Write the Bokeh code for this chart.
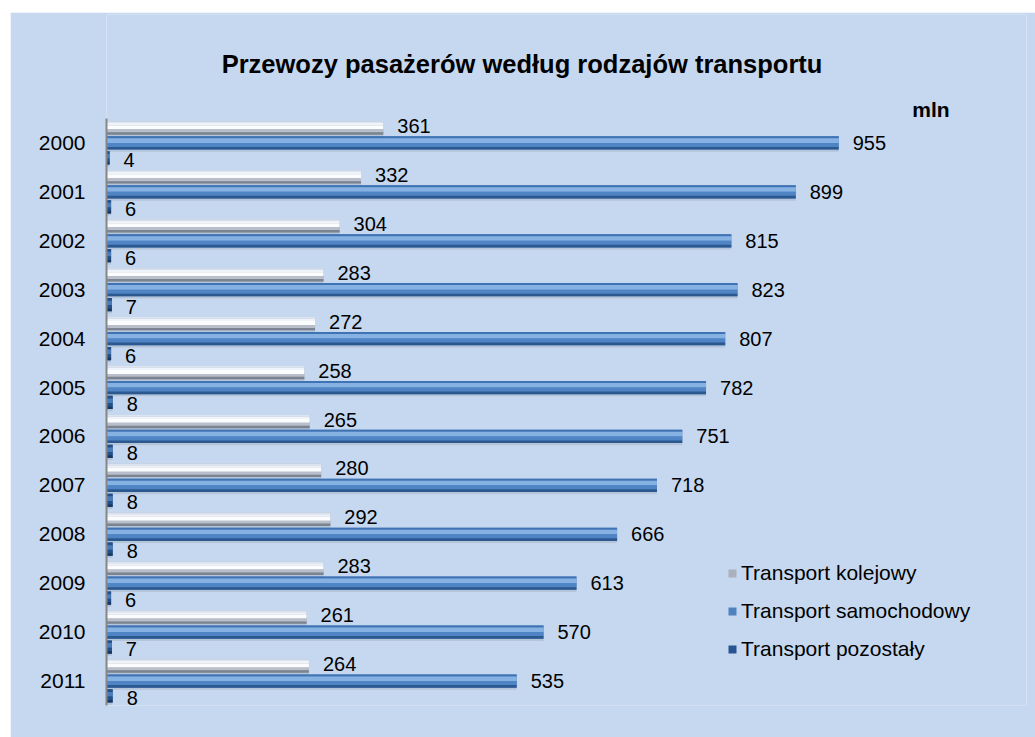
from bokeh.plotting import figure
from bokeh.models import (ColumnDataSource, Range1d, LabelSet, FixedTicker,
                          Legend, LegendItem, Spacer)
from bokeh.layouts import column, row
from bokeh.transform import dodge
from bokeh.core.properties import value
from bokeh.embed import file_html
from bokeh.resources import INLINE

# ---- data ----
years = ["2000", "2001", "2002", "2003", "2004", "2005",
         "2006", "2007", "2008", "2009", "2010", "2011"]
kolejowy = [361, 332, 304, 283, 272, 258, 265, 280, 292, 283, 261, 264]
samochodowy = [955, 899, 815, 823, 807, 782, 751, 718, 666, 613, 570, 535]
pozostaly = [4, 6, 6, 7, 6, 8, 8, 8, 8, 6, 7, 8]
series_names = ["Transport kolejowy", "Transport samochodowy", "Transport pozostały"]
title_text = "Przewozy pasażerów według rodzajów transportu"
unit_text = "mln"

FONT = "Liberation Sans"
BG = "#c6d8ef"
n = len(years)
idx = list(range(n))

p = figure(width=1025, height=725,
           x_range=Range1d(0, 1200),
           y_range=Range1d(n - 0.5, -2.626),
           x_axis_location=None,
           output_backend="svg", toolbar_location=None,
           min_border_left=96, min_border_right=9,
           min_border_top=2, min_border_bottom=32)
p.background_fill_color = BG
p.border_fill_color = BG
p.outline_line_color = None
p.xgrid.visible = False
p.ygrid.visible = False

ax = p.yaxis[0]
ax.ticker = FixedTicker(ticks=idx)
ax.major_label_overrides = {i: y for i, y in zip(idx, years)}
ax.bounds = (-0.5, n - 0.5)
ax.axis_line_color = "#868686"
ax.axis_line_width = 2
ax.major_tick_line_color = None
ax.minor_tick_line_color = None
ax.major_label_text_font = FONT
ax.major_label_text_font_size = "21px"
ax.major_label_text_color = "#000000"
ax.major_label_standoff = 15

H = 0.27
offsets = [-0.305, 0.0, 0.305]     # kolejowy on top, pozostały at bottom (y axis inverted)
values = [kolejowy, samochodowy, pozostaly]
base_colors = ["#aab0bc", "#4f81bd", "#28558f"]
stripes = [
    [(0.0, 0.12, "#dbe4f0"), (0.12, 0.3, "#eff4fa"), (0.3, 0.6, "#fbfcfe"),
     (0.6, 0.82, "#b9bfca"), (0.82, 1.0, "#7b8391")],
    [(0.0, 0.15, "#3f73b3"), (0.15, 0.5, "#86b1e3"), (0.5, 0.8, "#4f84c5"),
     (0.8, 1.0, "#2c5890")],
    [(0.0, 0.2, "#23508a"), (0.2, 0.55, "#4a7cba"), (0.55, 0.8, "#24508a"),
     (0.8, 1.0, "#163862")],
]
label_dy = [2, 0, -2]

legend_items = []
for i in range(3):
    src = ColumnDataSource(dict(pos=idx, v=values[i],
                                t=[str(x) for x in values[i]]))
    # soft shadow
    p.hbar(y=dodge("pos", offsets[i] + 0.045), right="v", left=0,
           height=H, source=src, fill_color="#8a97aa", fill_alpha=0.3,
           line_color=None)
    base = p.hbar(y=dodge("pos", offsets[i]), right="v", left=0,
                  height=H, source=src, fill_color=base_colors[i], line_color=None)
    for ft, fb, col in stripes[i]:
        c = offsets[i] - H / 2 + (ft + fb) / 2 * H
        p.hbar(y=dodge("pos", c), right="v", left=0,
               height=(fb - ft) * H, source=src, fill_color=col, line_color=None)
    legend_items.append(LegendItem(label=series_names[i], renderers=[base]))
    labels = LabelSet(x="v", y=dodge("pos", offsets[i]), text="t",
                      source=src, x_offset=14, y_offset=label_dy[i],
                      text_baseline="middle",
                      text_font=value(FONT), text_font_size=value("20px"),
                      text_color="#000000")
    p.add_layout(labels)

legend = Legend(items=legend_items, location=(621, 44))
legend.label_text_font = FONT
legend.label_text_font_size = "21px"
legend.label_text_color = "#000000"
legend.glyph_width = 10
legend.glyph_height = 10
legend.label_height = 21
legend.spacing = 14
legend.label_standoff = 4
legend.padding = 0
legend.margin = 0
legend.border_line_color = None
legend.background_fill_alpha = 0
p.add_layout(legend)

# chart title and unit as text glyphs above the category area
p.text(x=[542], y=[-1.604], text=[title_text], text_align="center",
       text_baseline="middle", text_font=value(FONT), text_font_size="25.5px",
       text_font_style="bold", text_color="#000000")
p.text(x=[1051], y=[-0.684], text=[unit_text], text_align="left",
       text_baseline="middle", text_font=value(FONT), text_font_size="21px",
       text_font_style="bold", text_color="#000000")

layout = column(Spacer(height=12, width=1035),
                row(Spacer(width=10, height=725), p))
open("out.html", "w").write(file_html(layout, INLINE))
